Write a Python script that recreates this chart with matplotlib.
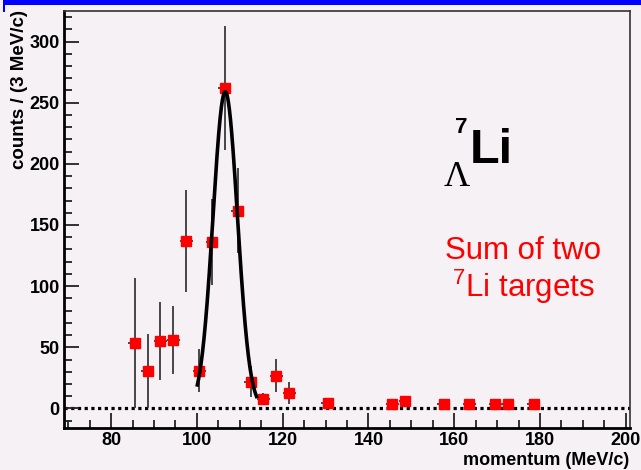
import numpy as np
import matplotlib
matplotlib.use("Agg")
import matplotlib.pyplot as plt
from matplotlib.ticker import MultipleLocator

# momentum bins (MeV/c), 3 MeV wide
momentum = [85.5, 88.5, 91.5, 94.5, 97.5, 100.5, 103.5, 106.5, 109.5,
            112.5, 115.5, 118.5, 121.5, 130.5, 145.5, 148.5, 157.5,
            163.5, 169.5, 172.5, 178.5]
counts = [53.4, 30.7, 55.3, 56.0, 137.0, 30.7, 136.0, 262.0, 161.7,
          22.0, 7.4, 26.8, 12.3, 4.1, 3.5, 6.3, 3.5,
          3.5, 3.5, 3.5, 3.5]
count_err = [53.0, 30.0, 32.0, 28.0, 42.0, 17.5, 35.0, 51.0, 35.0,
             12.5, 5.0, 13.5, 9.0, 2.0, 2.0, 2.0, 2.0,
             2.0, 2.0, 2.0, 2.0]
bin_half = 1.5

# gaussian fit parameters
fit_amp = 259.0
fit_mean = 106.6
fit_sigma = 2.85
fit_range = (100.1, 113.9)

bg = "#f5f1f5"
plt.rcParams['font.family'] = ['Liberation Sans', 'DejaVu Sans']
plt.rcParams['mathtext.fontset'] = 'custom'
plt.rcParams['mathtext.rm'] = 'Liberation Sans'

fig = plt.figure(figsize=(6.41, 4.70), dpi=100, facecolor=bg)
ax = fig.add_axes([0.0998, 0.0894, 0.8832, 0.8872], facecolor=bg)

# blue bar at top of slide
fig.patches.append(plt.Rectangle((0.004, 0.989), 0.996, 0.011, transform=fig.transFigure,
                                 facecolor="#0000ff", edgecolor="none"))
fig.patches.append(plt.Rectangle((0.004, 0.975), 0.004, 0.02, transform=fig.transFigure,
                                 facecolor="#0000ff", edgecolor="none"))

# zero line
ax.axhline(0, color="black", lw=2.3, ls=(0, (1, 1.1)), zorder=1)

# data
ax.errorbar(momentum, counts, yerr=count_err, xerr=bin_half, fmt="s",
            color="red", ms=7.5, mec="red", ecolor="#3a3a3a", elinewidth=1.3,
            capsize=0, zorder=3)

# fit curve
xf = np.linspace(fit_range[0], fit_range[1], 300)
yf = fit_amp * np.exp(-0.5 * ((xf - fit_mean) / fit_sigma) ** 2)
ax.plot(xf, yf, color="black", lw=2.6, zorder=4)

ax.set_xlim(69, 201)
ax.set_ylim(-16, 325)
ax.xaxis.set_major_locator(MultipleLocator(20))
ax.xaxis.set_minor_locator(MultipleLocator(5))
ax.yaxis.set_major_locator(MultipleLocator(50))
ax.yaxis.set_minor_locator(MultipleLocator(10))
ax.tick_params(which="both", direction="in", top=False, right=False,
               labelsize=13, width=1.3, color="#222222")
ax.tick_params(which="major", length=11, pad=3)
ax.tick_params(which="minor", length=6)
for lab in ax.get_xticklabels() + ax.get_yticklabels():
    lab.set_fontweight("bold")

ax.spines["left"].set_linewidth(2)
ax.spines["bottom"].set_linewidth(2)
ax.spines["right"].set_linewidth(1.2)
ax.spines["top"].set_linewidth(1.2)
ax.spines["right"].set_color("#333333")
ax.spines["top"].set_color("#333333")

fig.text(0.981, 0.021, "momentum (MeV/c)", ha="right", va="center",
         fontsize=13, fontweight="bold")
fig.text(0.031, 0.978, "counts / (3 MeV/c)", ha="center", va="top",
         rotation=90, fontsize=13.5, fontweight="bold")

# labels inside the plot
ax.text(0.691, 0.707, "7", transform=ax.transAxes, fontsize=16,
        fontweight="bold", ha="left", va="baseline")
ax.text(0.716, 0.635, "Li", transform=ax.transAxes, fontsize=35,
        fontweight="bold", ha="left", va="baseline")
ax.text(0.694, 0.580, "Λ", transform=ax.transAxes, fontsize=26,
        family=["Liberation Serif", "DejaVu Serif"], ha="center", va="baseline")
ax.text(0.811, 0.405, "Sum of two", transform=ax.transAxes, fontsize=22.5,
        color="red", ha="center", va="baseline")
ax.text(0.811, 0.315, "$^{7}$Li targets", transform=ax.transAxes, fontsize=22.5,
        color="red", ha="center", va="baseline")

fig.savefig("out.png", dpi=100, facecolor=bg)
